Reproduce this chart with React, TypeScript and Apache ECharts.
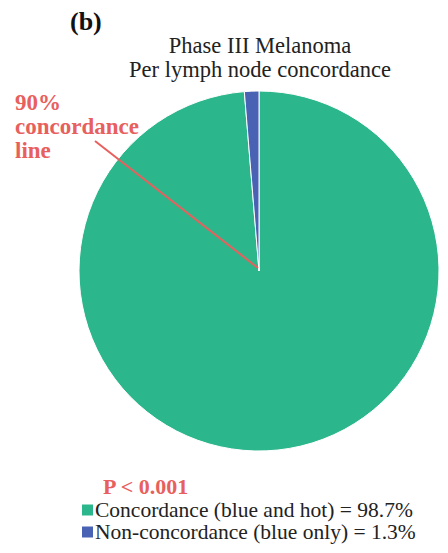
import React, { useEffect, useRef } from "react";
import * as echarts from "echarts";

const categories = ["Concordance (blue and hot)", "Non-concordance (blue only)"];
const values = [98.7, 1.3];
const colors = ["#2bb68b", "#4a62b4"];
const titleLines = ["Phase III Melanoma", "Per lymph node concordance"];
const pText = "P < 0.001";
const lineLabel = ["90%", "concordance", "line"];

const SERIF = "Liberation Serif";
const RED = "#e8605e";

export default function App() {
  const ref = useRef<HTMLDivElement>(null);
  useEffect(() => {
    if (!ref.current) return;
    const chart = echarts.init(ref.current, null, { renderer: "svg" });
    const data = categories.map((c, i) => ({ name: c, value: values[i], itemStyle: { color: colors[i] } }));
    chart.setOption({
      animation: false,
      backgroundColor: "#ffffff",
      title: {
        text: titleLines.join("\n"),
        left: 255,
        top: 28,
        textAlign: "center",
        textStyle: { fontFamily: SERIF, fontWeight: "normal", fontSize: 22.5, color: "#222", lineHeight: 24 },
      },
      legend: {
        orient: "vertical",
        left: 80,
        top: 499,
        height: 54,
        padding: 0,
        itemWidth: 13,
        itemHeight: 13,
        itemGap: 0,
        icon: "rect",
        formatter: (name: string) => {
          const i = categories.indexOf(name);
          return `${name} = ${values[i]}%`;
        },
        textStyle: { fontFamily: SERIF, fontSize: 21.5, lineHeight: 18, color: "#222", padding: [0, 0, 0, -4] },
      },
      series: [
        {
          type: "pie",
          center: [259, 271],
          radius: 180,
          startAngle: 90,
          clockwise: true,
          label: { show: false },
          labelLine: { show: false },
          itemStyle: { borderColor: "#ffffff", borderWidth: 1 },
          emphasis: { disabled: true },
          data,
        },
      ],
      graphic: [
        {
          type: "text",
          left: 70,
          top: 8,
          style: { text: "(b)", fontFamily: SERIF, fontWeight: "bold", fontSize: 26, fill: "#111" },
        },
        {
          type: "text",
          left: 15,
          top: 90,
          style: { text: lineLabel.join("\n"), fontFamily: SERIF, fontWeight: "bold", fontSize: 23, fill: RED, lineHeight: 24 },
        },
        {
          type: "line",
          shape: { x1: 95, y1: 141, x2: 258, y2: 268 },
          style: { stroke: RED, lineWidth: 2 },
          z: 10,
        },
        {
          type: "text",
          left: 103,
          top: 475,
          style: { text: pText, fontFamily: SERIF, fontWeight: "bold", fontSize: 22, fill: RED },
        },
      ],
    });
    return () => chart.dispose();
  }, []);
  return <div ref={ref} style={{ position: "fixed", left: 0, top: 0, width: 448, height: 553 }} />;
}
